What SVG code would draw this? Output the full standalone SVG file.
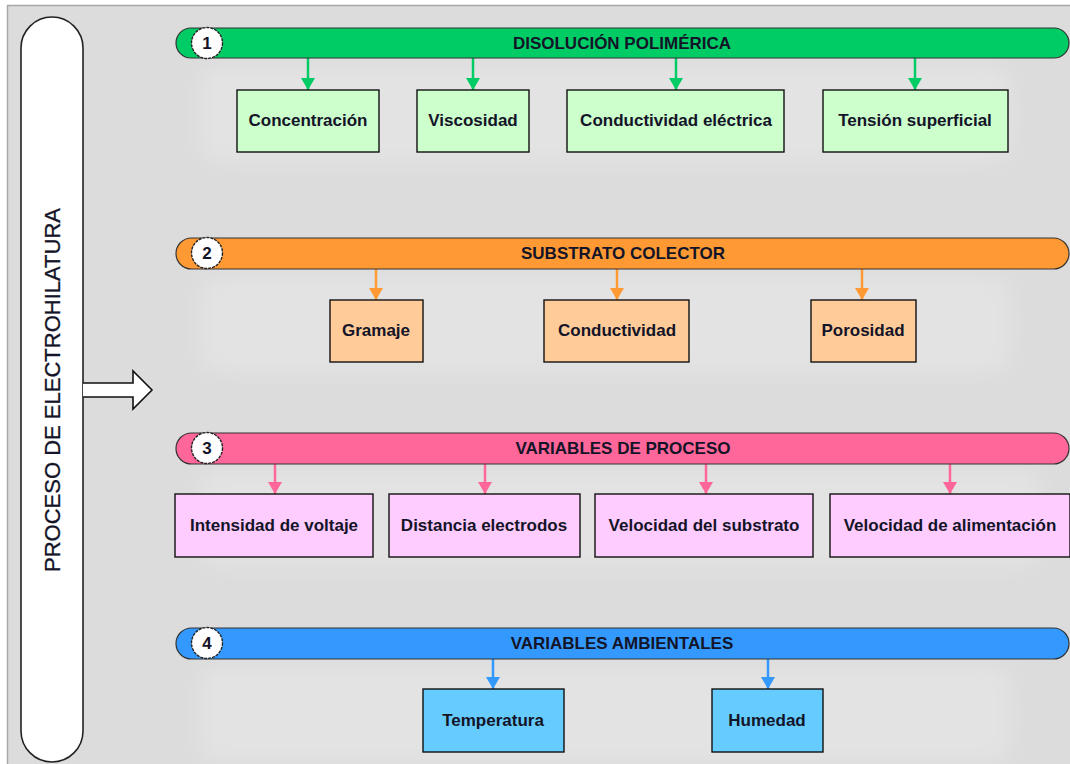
<svg xmlns="http://www.w3.org/2000/svg" width="1070" height="764" viewBox="0 0 1070 764">
<defs>
<style>
text{font-family:"Liberation Sans",Arial,sans-serif;fill:#141428}
.t{font-size:17px;font-weight:bold;text-anchor:middle;dominant-baseline:central}
.n{font-size:17px;font-weight:bold;text-anchor:middle;dominant-baseline:central}
.bar{stroke:#333;stroke-width:1.2}
.box{stroke:#111;stroke-width:1.4}
.num{fill:#fff;stroke:#222;stroke-width:1.4;stroke-dasharray:3 1}
.c{stroke-width:2.5;fill:none}
.glow{fill:#e3e3e3;filter:url(#blur)}
</style>
<filter id="blur" x="-10%" y="-30%" width="120%" height="160%"><feGaussianBlur stdDeviation="10"/></filter>
<marker id="ag" viewBox="0 0 14 12" refX="7" refY="12" markerWidth="14" markerHeight="12" markerUnits="userSpaceOnUse"><path d="M0,0 L14,0 L7,12 Z" fill="#00cc66"/></marker>
<marker id="ao" viewBox="0 0 14 12" refX="7" refY="12" markerWidth="14" markerHeight="12" markerUnits="userSpaceOnUse"><path d="M0,0 L14,0 L7,12 Z" fill="#ff9933"/></marker>
<marker id="ap" viewBox="0 0 14 12" refX="7" refY="12" markerWidth="14" markerHeight="12" markerUnits="userSpaceOnUse"><path d="M0,0 L14,0 L7,12 Z" fill="#ff6699"/></marker>
<marker id="ab" viewBox="0 0 14 12" refX="7" refY="12" markerWidth="14" markerHeight="12" markerUnits="userSpaceOnUse"><path d="M0,0 L14,0 L7,12 Z" fill="#3399ff"/></marker>
</defs>
<rect x="0" y="0" width="1070" height="764" fill="#fff"/>
<rect x="7.5" y="5.5" width="1070" height="770" fill="#dcdcdc" stroke="#a8a8a8" stroke-width="1.5"/>
<g id="glows">
<rect class="glow" x="200" y="66" width="810" height="96" rx="20"/>
<rect class="glow" x="200" y="276" width="810" height="96" rx="20"/>
<rect class="glow" x="200" y="470" width="840" height="96" rx="20"/>
<rect class="glow" x="200" y="666" width="810" height="96" rx="20"/>
</g>
<g id="proceso">
<rect x="21" y="17" width="62" height="745" rx="31" ry="31" fill="#fff" stroke="#222" stroke-width="1.6"/>
<text transform="translate(52,390) rotate(-90)" style="font-size:22px;text-anchor:middle;dominant-baseline:central;stroke:#141428;stroke-width:0.3">PROCESO DE ELECTROHILATURA</text>
</g>
<g id="flecha">
<path d="M83,383 L133,383 L133,371 L152,390 L133,409 L133,397 L83,397" fill="#fff" stroke="#111" stroke-width="1.6"/>
</g>
<g id="connectors">
<line class="c" x1="308" y1="58" x2="308" y2="90" stroke="#00cc66" marker-end="url(#ag)"/>
<line class="c" x1="473" y1="58" x2="473" y2="90" stroke="#00cc66" marker-end="url(#ag)"/>
<line class="c" x1="676" y1="58" x2="676" y2="90" stroke="#00cc66" marker-end="url(#ag)"/>
<line class="c" x1="915" y1="58" x2="915" y2="90" stroke="#00cc66" marker-end="url(#ag)"/>
<line class="c" x1="376" y1="269" x2="376" y2="300" stroke="#ff9933" marker-end="url(#ao)"/>
<line class="c" x1="617" y1="269" x2="617" y2="300" stroke="#ff9933" marker-end="url(#ao)"/>
<line class="c" x1="862" y1="269" x2="862" y2="300" stroke="#ff9933" marker-end="url(#ao)"/>
<line class="c" x1="275" y1="464" x2="275" y2="494" stroke="#ff6699" marker-end="url(#ap)"/>
<line class="c" x1="485" y1="464" x2="485" y2="494" stroke="#ff6699" marker-end="url(#ap)"/>
<line class="c" x1="706" y1="464" x2="706" y2="494" stroke="#ff6699" marker-end="url(#ap)"/>
<line class="c" x1="950" y1="464" x2="950" y2="494" stroke="#ff6699" marker-end="url(#ap)"/>
<line class="c" x1="493" y1="659" x2="493" y2="689" stroke="#3399ff" marker-end="url(#ab)"/>
<line class="c" x1="768" y1="659" x2="768" y2="689" stroke="#3399ff" marker-end="url(#ab)"/>
</g>
<g id="bar1">
<rect class="bar" x="176" y="28" width="893" height="30" rx="15" fill="#00cc66"/>
<circle class="num" cx="207" cy="43" r="15.5"/>
<text class="n" x="207" y="43">1</text>
<text class="t" x="622" y="43">DISOLUCIÓN POLIMÉRICA</text>
</g>
<g id="concentracion"><rect class="box" x="237" y="90" width="142" height="62" fill="#ccffcc"/><text class="t" x="308" y="120">Concentración</text></g>
<g id="viscosidad"><rect class="box" x="417" y="90" width="112" height="62" fill="#ccffcc"/><text class="t" x="473" y="120">Viscosidad</text></g>
<g id="conductividad-electrica"><rect class="box" x="567" y="90" width="217" height="62" fill="#ccffcc"/><text class="t" x="676" y="120">Conductividad eléctrica</text></g>
<g id="tension"><rect class="box" x="823" y="90" width="185" height="62" fill="#ccffcc"/><text class="t" x="915" y="120">Tensión superficial</text></g>
<g id="bar2">
<rect class="bar" x="176" y="238" width="893" height="31" rx="15.5" fill="#ff9933"/>
<circle class="num" cx="207" cy="253" r="15.5"/>
<text class="n" x="207" y="253">2</text>
<text class="t" x="623" y="253">SUBSTRATO COLECTOR</text>
</g>
<g id="gramaje"><rect class="box" x="330" y="300" width="93" height="62" fill="#ffcc99"/><text class="t" x="376" y="330">Gramaje</text></g>
<g id="conductividad"><rect class="box" x="544" y="300" width="145" height="62" fill="#ffcc99"/><text class="t" x="617" y="330">Conductividad</text></g>
<g id="porosidad"><rect class="box" x="811" y="300" width="105" height="62" fill="#ffcc99"/><text class="t" x="863" y="330">Porosidad</text></g>
<g id="bar3">
<rect class="bar" x="176" y="433" width="893" height="31" rx="15.5" fill="#ff6699"/>
<circle class="num" cx="207" cy="448" r="15.5"/>
<text class="n" x="207" y="448">3</text>
<text class="t" x="623" y="448">VARIABLES DE PROCESO</text>
</g>
<g id="voltaje"><rect class="box" x="175" y="494" width="198" height="63" fill="#ffccff"/><text class="t" x="274" y="525">Intensidad de voltaje</text></g>
<g id="distancia"><rect class="box" x="389" y="494" width="191" height="63" fill="#ffccff"/><text class="t" x="484" y="525">Distancia electrodos</text></g>
<g id="vel-substrato"><rect class="box" x="595" y="494" width="218" height="63" fill="#ffccff"/><text class="t" x="704" y="525">Velocidad del substrato</text></g>
<g id="vel-alimentacion"><rect class="box" x="830" y="494" width="240" height="63" fill="#ffccff"/><text class="t" x="950" y="525">Velocidad de alimentación</text></g>
<g id="bar4">
<rect class="bar" x="176" y="628" width="893" height="31" rx="15.5" fill="#3399ff"/>
<circle class="num" cx="207" cy="643" r="15.5"/>
<text class="n" x="207" y="643">4</text>
<text class="t" x="622" y="643">VARIABLES AMBIENTALES</text>
</g>
<g id="temperatura"><rect class="box" x="423" y="689" width="141" height="63" fill="#66ccff"/><text class="t" x="493" y="720">Temperatura</text></g>
<g id="humedad"><rect class="box" x="712" y="689" width="111" height="63" fill="#66ccff"/><text class="t" x="767" y="720">Humedad</text></g>
</svg>
